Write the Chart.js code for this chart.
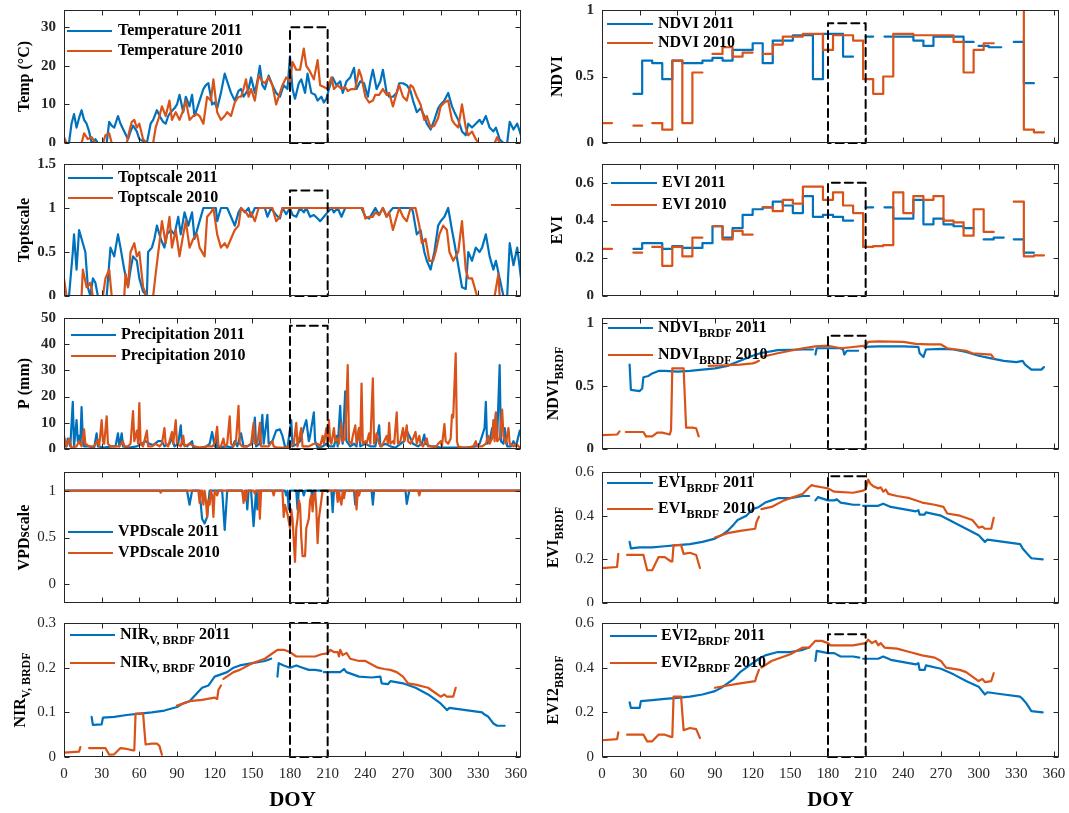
<!DOCTYPE html>
<html>
<head>
<meta charset="utf-8">
<script src="https://cdn.jsdelivr.net/npm/chart.js@4.4.1/dist/chart.umd.min.js"></script>
<style>
  body { margin: 0; background: #fff; width: 1069px; height: 813px; position: relative; overflow: hidden; }
  canvas { position: absolute; }
</style>
</head>
<body>
<script>
// ---- data (DOY, value) ----
const xTicks = [0, 30, 60, 90, 120, 150, 180, 210, 240, 270, 300, 330, 360];
const boxDoy = [180, 210];

const temp2011 = [[0,0],[4,0],[6,5],[8,7.5],[10,4],[12,6.5],[14,8.5],[16,6],[18,5],[20,3],
  [22,0],[24,0.5],[25,1],[27,0],[34,0],[36,5.5],[38,4.5],[40,4],[43,7],[45,5],
  [48,3],[51,1],[53,3],[55,4.5],[58,3],[60,1],[63,0.5],[66,0],[69,5],[71,6],
  [74,8.5],[77,6.5],[79,5.5],[81,5],[83,7],[85,8],[88,9],[90,10],[92,12.5],[95,8],
  [97,12],[100,9.5],[102,12.5],[104,7],[106,9],[108,11],[111,14],[113,15],[115,15.5],[118,10],
  [120,10.5],[122,9],[125,13],[128,18],[130,16],[133,13],[136,11],[139,13.5],[141,14],[143,12],
  [145,13],[147,14],[149,17],[152,13],[154,16],[156,20],[158,15],[160,14],[163,17.5],[166,15],
  [169,13],[172,12],[175,15],[178,14],[180,22.5],[182,14],[184,11.5],[187,15.5],[189,16.5],[192,13],
  [194,18],[197,13],[200,12.5],[202,11],[205,12],[207,10.5],[209,11.5],[211,14],[214,17],[217,15],
  [220,16],[222,13],[225,16],[228,17],[231,19.5],[233,14],[236,16],[239,15.5],[242,12],[244,16],
  [246,19],[249,14],[252,16],[254,19],[257,13],[259,12],[262,12],[265,13],[267,15.5],[270,15.5],
  [273,15],[276,13.5],[278,11],[281,8],[284,9],[287,7],[289,5],[292,3.5],[295,6],[298,9],
  [300,10],[303,11],[306,13],[309,9.5],[311,8],[314,6],[317,3],[320,2],[322,5],[325,4],
  [328,5],[331,6],[333,5],[336,7],[339,4],[342,3],[344,4],[347,1],[350,0],[353,0],
  [355,5.5],[358,3.5],[361,5],[364,2]];
const temp2010 = [[0,1.5],[2,0],[14,0],[16,2.5],[19,1],[22,1.5],[25,0],[31,0],[33,2],[36,2.5],
  [38,0],[50,0],[52,3],[54,5.5],[56,6],[58,4],[60,5],[63,1],[66,0],[71,0],
  [73,4],[76,7],[78,9.5],[81,7],[84,11],[86,6],[89,8],[92,6],[95,8.5],[97,11],
  [100,6],[103,7],[106,7.5],[108,7],[111,5],[114,12],[117,11],[119,16.5],[122,8],[125,6],
  [128,7],[130,8],[133,7],[136,10.5],[139,12],[141,12],[143,14],[145,16.5],[147,12],[149,14],
  [152,11],[155,17.5],[158,16],[160,15.5],[163,17],[166,15],[169,10],[172,13],[174,15],[177,17],
  [180,16],[182,21],[185,19],[188,19],[191,24.5],[193,20],[196,18.5],[199,16.5],[202,21.5],[204,15],
  [207,14.5],[210,14],[213,17],[215,14],[218,15],[221,14],[224,14.5],[226,13.5],[229,14],[232,14],
  [235,19],[237,17],[240,12],[243,10.5],[246,11],[248,12.5],[251,12.5],[254,14],[257,12.5],[259,13],
  [262,9.5],[265,13],[267,15],[270,12],[273,11],[276,15],[278,14.5],[281,12],[284,10],[287,6],
  [289,7],[292,4],[295,4.5],[298,6.5],[300,9.5],[303,10.5],[306,11],[309,6],[311,5],[314,4],
  [317,10],[320,4],[322,2],[325,3],[328,1],[330,0],[343,0],[345,1.5],[347,0],[364,0]];

const topt2011 = [[0,0],[4,0],[7,0.5],[8,0.7],[10,0.3],[12,0.75],[15,0.6],[17,0.5],[19,0.1],[21,0],
  [23,0.2],[25,0.15],[27,0],[34,0],[37,0.55],[40,0.45],[43,0.7],[45,0.55],[48,0.3],[51,0.1],
  [53,0.3],[55,0.45],[58,0.4],[60,0.2],[63,0.05],[66,0],[67,0.5],[70,0.55],[72,0.65],[74,0.8],
  [77,0.65],[80,0.55],[82,0.7],[85,0.75],[88,0.7],[91,0.9],[93,0.7],[96,0.95],[99,0.8],[102,0.95],
  [104,0.65],[107,0.8],[111,1],[121,1],[122,0.85],[125,1],[130,1],[133,0.9],[136,0.8],[139,0.95],
  [141,1],[144,0.95],[147,1],[149,0.9],[152,1],[160,1],[162,0.9],[165,1],[169,0.92],[172,0.88],
  [174,1],[177,0.93],[180,1],[182,0.92],[185,0.9],[188,1],[191,0.95],[193,1],[196,0.9],[199,0.92],
  [202,0.88],[204,0.85],[207,0.9],[210,0.95],[213,1],[215,0.95],[218,1],[221,0.9],[224,1],[237,1],
  [240,0.9],[243,0.88],[246,0.95],[248,1],[251,0.92],[254,1],[257,0.9],[259,0.95],[262,1],[277,1],
  [278,0.95],[281,0.7],[284,0.75],[287,0.5],[289,0.4],[292,0.3],[295,0.5],[298,0.8],[300,0.85],[303,0.9],
  [306,1],[309,0.75],[311,0.6],[314,0.35],[317,0.1],[320,0.08],[322,0.5],[325,0.4],[328,0.55],[331,0.5],
  [333,0.55],[336,0.7],[339,0.45],[342,0.3],[344,0.4],[347,0.2],[350,0],[353,0],[355,0.6],[358,0.35],
  [361,0.55],[364,0.2]];
const topt2010 = [[0,0.2],[2,0],[14,0],[15,0.3],[18,0.1],[21,0.15],[23,0],[31,0],[33,0.2],[36,0.3],
  [38,0],[48,0],[49,0.25],[51,0.1],[53,0.5],[56,0.6],[58,0.45],[60,0.5],[63,0.1],[66,0],
  [71,0],[73,0.25],[76,0.6],[78,0.85],[81,0.6],[84,0.9],[86,0.55],[89,0.75],[92,0.45],[95,0.7],
  [97,0.85],[100,0.55],[103,0.65],[106,0.7],[108,0.55],[112,0.45],[114,0.9],[117,0.95],[119,1],[122,0.7],
  [125,0.55],[128,0.6],[130,0.55],[133,0.65],[136,0.75],[139,0.8],[141,1],[145,0.95],[147,0.9],[149,0.95],
  [152,0.85],[155,1],[166,1],[169,0.85],[172,0.9],[174,1],[238,1],[240,0.88],[243,0.9],[246,0.9],
  [248,0.95],[251,0.92],[254,1],[257,0.9],[259,0.95],[262,0.75],[265,0.9],[267,1],[270,0.9],[273,0.85],
  [276,1],[280,1],[283,0.8],[285,0.6],[288,0.65],[291,0.4],[294,0.4],[296,0.5],[299,0.7],[302,0.8],
  [305,0.75],[307,0.5],[310,0.4],[314,0.5],[317,0.85],[320,0.3],[322,0.2],[325,0.2],[328,0.05],[329,0],
  [343,0],[346,0.25],[347,0],[364,0]];

const precip2011 = [[0,1],[2,1],[3,4],[5,1],[7,18],[8,1],[10,11],[11,3],[12,5],[13,2],
  [14,16],[15,4],[16,1],[20,1],[24,0.5],[26,6],[27,1],[32,0.5],[38,1],[41,1],
  [43,6],[44,1],[46,6],[47,1],[52,0.5],[58,1],[62,2],[65,3],[68,2],[71,1.5],
  [75,3],[78,3],[80,1],[84,2],[86,4],[88,1],[91,2],[93,9],[94,2],[98,1],
  [102,3],[103,0.5],[108,0.5],[112,0.5],[116,2],[118,6.5],[120,1],[121,4],[122,0.5],[130,1],
  [134,0.5],[136,3],[138,1],[141,6],[143,1],[146,1],[150,2],[152,12],[153,1],[156,2],
  [158,13],[159,2],[162,13],[163,2],[166,3],[169,7],[172,7.5],[174,5],[176,1],[178,0.5],
  [181,11],[182,1],[186,2],[188,3],[191,8],[193,11],[195,3],[196,5],[199,14],[200,3],
  [202,0.5],[206,1],[209,2],[212,1],[215,1],[217,5],[218,1],[220,16.5],[221,5],[222,2],
  [224,22],[225,3],[228,1],[231,2],[233,1],[235,8],[236,1],[240,2],[244,1],[248,1],
  [251,9],[252,1],[256,2],[260,1],[264,0.5],[268,2],[271,3],[273,7],[276,4],[278,2],
  [282,1],[285,2],[287,5.5],[288,2],[292,1],[296,1],[300,0.5],[310,0.5],[320,0.5],[328,1],
  [331,2],[333,5],[335,8],[336,18],[337,2],[339,3],[341,8],[343,8],[344,13.5],[345,4],
  [347,32],[348,3],[350,2],[351,8],[353,1],[356,1],[358,3],[360,1],[363,7],[364,5]];
const precip2010 = [[0,5],[2,1],[4,4],[6,0.5],[10,1],[12,3],[14,1],[16,7.5],[17,2],[20,1],
  [24,1],[27,3.5],[28,1],[30,11],[31,3],[32,2],[34,12.5],[35,2],[37,1],[40,1],
  [44,1],[47,3],[48,1],[51,1],[53,2],[55,14.5],[56,3],[58,7],[59,2],[60,17.5],
  [61,2],[63,1],[66,7],[67,1],[70,1],[73,2],[76,1],[78,2],[80,8],[81,2],
  [83,1],[86,6.5],[87,2],[89,11],[90,2],[93,1],[95,5],[96,1],[100,2],[104,1],
  [108,0.5],[114,1],[118,1],[120,2],[122,8.5],[123,1],[125,1],[127,4],[128,1],[130,2],
  [132,12.5],[133,2],[135,1],[137,3],[139,16.5],[140,2],[142,1],[146,1],[149,2],[151,10],
  [152,2],[154,2],[156,10],[157,1],[160,1],[163,1],[166,3],[167,1],[170,0.5],[176,0.5],
  [180,1],[183,2],[185,10],[186,1],[189,8],[190,1],[195,1],[199,2],[202,2],[204,1],
  [206,5],[207,2],[209,8],[210,3],[211,11],[212,3],[213,2],[215,8],[216,3],[218,4],
  [219,2],[221,10],[222,3],[224,4],[226,32],[227,3],[229,2],[230,5],[232,9],[233,2],
  [235,8],[236,3],[237,25],[238,2],[240,3],[241,2],[243,6],[244,2],[246,27],[247,2],
  [249,6],[251,2],[253,1],[255,3],[257,5],[258,2],[259,10],[260,2],[262,3],[263,2],
  [265,14],[266,2],[268,3],[270,8],[271,3],[273,9],[274,3],[276,2],[278,4],[280,6.5],
  [281,2],[283,5],[284,2],[286,1],[289,4],[290,1],[293,1],[296,0.5],[298,2],[300,3],
  [301,1],[303,9.5],[304,3],[306,2],[308,4],[309,13],[310,12],[312,36.5],[313,3],[314,1],
  [318,0.5],[322,0.5],[326,1],[328,3],[329,1],[333,1],[336,2],[338,5],[339,2],[341,4],
  [342,11],[343,3],[344,14],[345,3],[347,4],[349,15],[350,5],[352,2],[354,8],[355,2],
  [358,1],[360,2],[362,1],[364,0.5]];

const vpd2011 = [[0,1],[98,1],[100,0.85],[102,1],[108,1],[110,0.7],[112,0.65],[114,0.72],[116,1],[126,1],
  [128,0.58],[130,1],[142,1],[144,0.9],[145,1],[146,0.8],[147,1],[149,1],[151,0.62],[153,1],
  [154,0.8],[155,1],[176,1],[177,0.95],[178,1],[179,0.8],[180,1],[185,1],[186,0.8],[187,1],
  [190,1],[191,0.95],[192,1],[197,1],[198,0.9],[199,1],[213,1],[214,0.77],[215,1],[231,1],
  [232,0.85],[233,1],[245,1],[246,0.85],[247,1],[272,1],[273,0.86],[275,1],[364,1]];
const vpd2010 = [[0,1],[76,1],[77,0.98],[78,1],[107,1],[108,0.87],[109,1],[110,1],[111,0.85],[112,1],
  [113,0.9],[114,0.72],[115,0.9],[116,0.85],[117,1],[118,0.95],[119,0.72],[120,1],[122,0.95],[123,1],
  [142,1],[143,0.87],[144,1],[145,0.9],[146,1],[151,1],[152,0.97],[153,1],[155,1],[156,0.7],
  [157,1],[166,1],[167,0.95],[168,1],[174,1],[175,0.72],[176,0.85],[178,0.75],[180,0.6],[181,0.8],
  [182,0.7],[184,0.24],[185,0.6],[186,0.7],[187,0.9],[188,0.85],[189,0.5],[190,0.3],[192,0.3],[193,0.6],
  [195,0.7],[196,0.9],[197,0.95],[198,0.78],[199,0.95],[200,1],[201,0.8],[202,0.44],[203,0.7],[205,0.9],
  [206,1],[217,1],[218,0.88],[219,1],[220,0.9],[221,0.85],[222,1],[223,0.92],[224,1],[232,1],
  [233,0.8],[234,1],[235,0.95],[236,1],[282,1],[283,0.95],[284,1],[364,1]];

const nirv2011 = [[22,0.09],[23,0.072],[30,0.073],[31,0.088],[40,0.09],[50,0.094],[60,0.097],[70,0.1],[80,0.104],[90,0.112],
  [95,0.12],[100,0.125],[105,0.14],[110,0.155],[115,0.16],[120,0.18],[125,0.185],[130,0.19],[135,0.2],[140,0.205],
  [150,0.21],[160,0.215],[165,0.22],[167,null],[170,0.18],[171,0.21],[175,0.205],[180,0.2],[185,0.205],[190,0.2],
  [195,0.195],[200,0.195],[205,0.193],[206,null],[207,0.19],[215,0.19],[220,0.19],[223,0.197],[225,0.19],[235,0.18],
  [245,0.178],[252,0.18],[253,0.165],[258,0.163],[260,0.17],[270,0.165],[280,0.155],[290,0.14],[300,0.12],[305,0.105],
  [307,0.11],[320,0.105],[333,0.1],[335,0.095],[338,0.09],[342,0.075],[345,0.07],[351,0.07]];
const nirv2010 = [[0,0.01],[12,0.012],[13,0.022],[15,null],[20,0.02],[33,0.02],[36,0.005],[40,0.006],[45,0.02],[50,0.018],
  [55,0.015],[56,0.015],[57,0.097],[63,0.097],[65,0.028],[70,0.03],[74,0.03],[76,0.025],[78,0.005],[80,null],
  [90,0.115],[100,0.125],[110,0.128],[120,0.133],[122,0.13],[123,0.15],[125,0.16],[126,null],[127,0.175],[135,0.19],
  [140,0.195],[150,0.21],[155,0.215],[160,0.22],[165,0.23],[170,0.24],[175,0.24],[180,0.235],[185,0.225],[190,0.225],
  [200,0.225],[205,0.23],[210,0.232],[212,0.24],[215,0.235],[218,0.235],[219,0.225],[220,0.24],[222,0.228],[225,0.233],
  [228,0.22],[235,0.215],[240,0.215],[250,0.2],[255,0.197],[260,0.195],[265,0.19],[270,0.18],[274,0.165],[280,0.162],
  [290,0.155],[295,0.145],[300,0.135],[303,0.14],[305,0.135],[310,0.135],[312,0.155]];

// composites: [start DOY, value] held until the next start, null = no data
const ndvi2011 = [[25,0.37],[32,0.62],[40,0.60],[48,0.48],[56,0.62],[64,0.60],[80,0.62],[88,0.64],[96,0.62],[104,0.70],
  [120,0.75],[128,0.60],[136,0.77],[152,0.81],[168,0.48],[176,0.82],[192,0.65],[200,null],[210,0.80],[216,null],
  [225,0.80],[248,0.77],[256,0.73],[264,0.80],[288,0.76],[296,null],[300,0.73],[308,0.72],[318,null],[328,0.76],
  [336,0.45],[344,null]];
const ndvi2010 = [[0,0.15],[8,null],[25,0.13],[32,null],[40,0.15],[48,0.10],[56,0.62],[64,0.15],[72,0.53],[80,null],
  [88,0.67],[96,0.72],[104,0.65],[112,0.68],[120,null],[128,0.67],[136,0.74],[144,0.80],[160,0.82],[176,0.70],
  [184,0.81],[200,0.77],[208,0.48],[216,0.37],[224,0.50],[232,0.82],[248,0.81],[280,0.76],[288,0.53],[296,0.70],
  [304,0.75],[312,null],[334,1.0],[336,0.10],[344,0.08],[352,null]];
const evi2011 = [[25,0.25],[32,0.28],[48,0.25],[56,0.265],[64,0.255],[80,0.28],[88,0.37],[96,0.31],[104,0.36],[112,0.43],
  [120,0.46],[128,0.47],[136,0.50],[144,0.48],[152,0.44],[160,0.53],[168,0.42],[176,0.43],[184,0.42],[192,0.40],
  [200,null],[210,0.47],[216,null],[225,0.47],[232,0.41],[248,0.51],[256,0.38],[264,0.41],[272,0.38],[280,0.37],
  [288,0.36],[296,null],[304,0.30],[312,0.31],[320,null],[328,0.30],[336,0.23],[344,null]];
const evi2010 = [[0,0.25],[8,null],[25,0.23],[32,null],[40,0.26],[48,0.16],[56,0.26],[64,0.21],[72,0.31],[80,null],
  [88,0.37],[96,0.30],[104,0.345],[112,0.325],[120,null],[128,0.47],[136,0.45],[144,0.51],[152,0.49],[160,0.58],
  [176,0.51],[184,0.55],[192,0.48],[200,0.44],[208,0.26],[216,0.265],[224,0.27],[232,0.55],[240,0.44],[248,0.53],
  [256,0.51],[264,0.53],[272,0.40],[280,0.39],[288,0.32],[296,0.46],[304,0.34],[312,null],[328,0.50],[336,0.21],
  [344,0.215],[352,null]];

const ndviB2011 = [[22,0.67],[23,0.47],[30,0.46],[32,0.48],[33,0.57],[37,0.58],[40,0.6],[45,0.62],[50,0.62],[60,0.615],
  [70,0.62],[80,0.63],[90,0.64],[100,0.66],[105,0.68],[110,0.7],[115,0.72],[120,0.74],[126,0.76],[140,0.785],
  [160,0.79],[168,0.79],[169,null],[170,0.75],[171,0.8],[180,0.8],[190,0.8],[192,0.79],[193,0.75],[195,0.78],
  [204,0.78],[206,null],[209,0.81],[220,0.815],[240,0.815],[250,0.81],[252,0.81],[253,0.76],[256,0.73],[258,0.79],
  [270,0.795],[280,0.79],[290,0.77],[300,0.74],[310,0.72],[320,0.7],[330,0.69],[335,0.7],[337,0.67],[342,0.63],
  [350,0.63],[352,0.65]];
const ndviB2010 = [[0,0.11],[12,0.115],[14,0.14],[16,null],[19,0.135],[33,0.135],[35,0.1],[40,0.1],[44,0.13],[48,0.13],
  [54,0.115],[55,0.15],[56,0.64],[65,0.64],[67,0.17],[72,0.17],[75,0.165],[77,0.1],[79,null],[85,0.66],
  [100,0.665],[110,0.67],[120,0.68],[123,0.69],[125,0.7],[126,null],[127,0.73],[140,0.76],[150,0.78],[160,0.8],
  [170,0.815],[180,0.82],[190,0.8],[200,0.81],[210,0.82],[212,0.85],[220,0.855],[240,0.85],[250,0.835],[260,0.83],
  [270,0.83],[275,0.8],[290,0.78],[295,0.76],[310,0.75],[312,0.72]];
const eviB2011 = [[22,0.28],[23,0.25],[30,0.255],[40,0.255],[50,0.26],[60,0.265],[70,0.27],[80,0.28],[90,0.295],[95,0.31],
  [100,0.33],[105,0.36],[108,0.38],[115,0.4],[120,0.43],[125,0.44],[130,0.46],[135,0.47],[140,0.48],[150,0.48],
  [160,0.49],[165,0.49],[167,null],[170,0.47],[172,0.485],[180,0.47],[185,0.47],[187,0.475],[190,0.46],[195,0.455],
  [200,0.45],[205,0.45],[206,null],[208,0.445],[220,0.445],[224,0.455],[230,0.44],[240,0.43],[250,0.42],[252,0.425],
  [253,0.405],[257,0.405],[258,0.415],[270,0.4],[280,0.37],[290,0.34],[300,0.31],[305,0.28],[307,0.29],[320,0.28],
  [333,0.27],[335,0.25],[338,0.23],[342,0.205],[351,0.2]];
const eviB2010 = [[0,0.16],[12,0.165],[13,0.225],[15,null],[20,0.22],[33,0.22],[36,0.15],[40,0.15],[45,0.21],[50,0.21],
  [55,0.19],[56,0.19],[57,0.265],[63,0.265],[65,0.225],[70,0.23],[75,0.22],[78,0.16],[80,null],[90,0.3],
  [100,0.32],[110,0.33],[122,0.34],[123,0.37],[125,0.395],[126,null],[127,0.43],[135,0.44],[145,0.47],[155,0.49],
  [160,0.5],[165,0.53],[167,0.54],[170,0.535],[175,0.53],[180,0.525],[185,0.51],[200,0.505],[208,0.515],[210,0.52],
  [212,0.565],[214,0.545],[216,0.535],[220,0.525],[222,0.53],[224,0.51],[226,0.52],[228,0.5],[235,0.49],[245,0.48],
  [255,0.46],[265,0.45],[272,0.44],[275,0.41],[285,0.4],[295,0.38],[300,0.345],[303,0.35],[305,0.34],[310,0.34],
  [312,0.39]];
const evi2B2011 = [[22,0.245],[23,0.22],[30,0.22],[31,0.25],[40,0.255],[50,0.26],[60,0.265],[70,0.27],[80,0.28],[90,0.295],
  [95,0.31],[100,0.33],[105,0.35],[110,0.38],[115,0.4],[120,0.42],[125,0.44],[130,0.455],[140,0.47],[150,0.47],
  [160,0.48],[165,0.49],[167,null],[170,0.43],[171,0.475],[180,0.465],[185,0.465],[190,0.45],[195,0.45],[200,0.45],
  [205,0.445],[206,null],[208,0.44],[220,0.44],[224,0.45],[230,0.435],[240,0.425],[250,0.415],[252,0.42],[253,0.39],
  [257,0.39],[258,0.41],[270,0.395],[280,0.37],[290,0.34],[300,0.315],[305,0.28],[307,0.29],[320,0.28],[333,0.27],
  [335,0.26],[338,0.24],[342,0.205],[351,0.2]];
const evi2B2010 = [[0,0.075],[12,0.08],[13,0.11],[15,null],[20,0.1],[33,0.1],[36,0.07],[40,0.07],[45,0.1],[50,0.1],
  [55,0.09],[56,0.09],[57,0.27],[63,0.27],[65,0.12],[70,0.13],[75,0.125],[78,0.085],[80,null],[90,0.31],
  [100,0.32],[110,0.33],[122,0.34],[123,0.36],[125,0.39],[126,null],[127,0.4],[135,0.43],[145,0.45],[150,0.46],
  [160,0.49],[165,0.49],[170,0.52],[175,0.52],[180,0.51],[182,0.5],[200,0.5],[210,0.51],[212,0.525],[215,0.51],
  [218,0.52],[220,0.5],[222,0.51],[225,0.49],[235,0.485],[245,0.47],[255,0.455],[265,0.445],[270,0.43],[274,0.4],
  [285,0.39],[290,0.38],[300,0.34],[303,0.35],[305,0.335],[310,0.34],[312,0.375]];

// ---- helpers ----
const FONT = '"Liberation Serif", "Times New Roman", serif';
const BLUE = 'rgb(0,114,189)';
const ORANGE = 'rgb(217,83,25)';

function pts(pairs) {
  return pairs.map(p => ({x: p[0], y: p[1]}));
}
function stairs(pairs) {
  const out = [];
  pairs.forEach((p, i) => {
    if (p[1] === null || i === pairs.length - 1) { out.push({x: p[0], y: null}); return; }
    out.push({x: p[0], y: p[1]}, {x: pairs[i + 1][0], y: p[1]});
  });
  return out;
}

// text with _{sub} parts
function rich(ctx, str, x, y, size, dry) {
  const parts = str.split(/_\{([^}]*)\}/);
  let cx = x;
  parts.forEach((t, i) => {
    if (!t) return;
    const sub = i % 2 === 1;
    ctx.font = 'bold ' + (sub ? Math.round(size * 0.78) : size) + 'px ' + FONT;
    if (!dry) ctx.fillText(t, cx, sub ? y + size * 0.34 : y);
    cx += ctx.measureText(t).width;
  });
  return cx - x;
}

const rows = [
  {top: 10, bottom: 143}, {top: 164, bottom: 296}, {top: 318, bottom: 449},
  {top: 472, bottom: 603}, {top: 623, bottom: 757}
];
const cols = [
  {left: 0, width: 530, axisW: 64, padR: 9, titleX: 25},
  {left: 540, width: 529, axisW: 62, padR: 10, titleX: 18}
];

const panels = [
  {row: 0, col: 0, ymin: 0, ymax: 34.5, yticks: [0, 10, 20, 30], bold: true, title: 'Temp (°C)', boxTop: 30,
    lg: {x1: 3, x2: 48, tx: 54, y: [21, 41]}, labels: ['Temperature 2011', 'Temperature 2010'],
    a: pts(temp2011), b: pts(temp2010)},
  {row: 1, col: 0, ymin: 0, ymax: 1.5, yticks: [0, 0.5, 1, 1.5], bold: true, title: 'Toptscale', boxTop: 1.2,
    lg: {x1: 4, x2: 49, tx: 54, y: [14, 34]}, labels: ['Toptscale 2011', 'Toptscale 2010'],
    a: pts(topt2011), b: pts(topt2010)},
  {row: 2, col: 0, ymin: 0, ymax: 50, yticks: [0, 10, 20, 30, 40, 50], bold: true, title: 'P (mm)', boxTop: 47,
    lg: {x1: 7, x2: 52, tx: 57, y: [17, 38]}, labels: ['Precipitation 2011', 'Precipitation 2010'],
    a: pts(precip2011), b: pts(precip2010)},
  {row: 3, col: 0, ymin: -0.2, ymax: 1.2, yticks: [0, 0.5, 1], bold: false, title: 'VPDscale', boxTop: 1,
    lg: {x1: 4, x2: 49, tx: 54, y: [60, 81]}, labels: ['VPDscale 2011', 'VPDscale 2010'],
    a: pts(vpd2011), b: pts(vpd2010)},
  {row: 4, col: 0, ymin: 0, ymax: 0.3, yticks: [0, 0.1, 0.2, 0.3], bold: false, title: 'NIR_{V, BRDF}', boxTop: 0.3,
    lg: {x1: 6, x2: 51, tx: 56, y: [12, 40]}, labels: ['NIR_{V, BRDF} 2011', 'NIR_{V, BRDF} 2010'],
    a: pts(nirv2011), b: pts(nirv2010)},
  {row: 0, col: 1, ymin: 0, ymax: 1, yticks: [0, 0.5, 1], bold: true, title: 'NDVI', boxTop: 0.9,
    lg: {x1: 5, x2: 51, tx: 56, y: [14, 33]}, labels: ['NDVI 2011', 'NDVI 2010'],
    a: stairs(ndvi2011), b: stairs(ndvi2010)},
  {row: 1, col: 1, ymin: 0, ymax: 0.7, yticks: [0, 0.2, 0.4, 0.6], bold: true, title: 'EVI', boxTop: 0.6,
    lg: {x1: 9, x2: 55, tx: 60, y: [19, 41]}, labels: ['EVI 2011', 'EVI 2010'],
    a: stairs(evi2011), b: stairs(evi2010)},
  {row: 2, col: 1, ymin: 0, ymax: 1.04, yticks: [0, 0.5, 1], bold: true, title: 'NDVI_{BRDF}', boxTop: 0.9,
    lg: {x1: 6, x2: 51, tx: 56, y: [10, 37]}, labels: ['NDVI_{BRDF} 2011', 'NDVI_{BRDF} 2010'],
    a: pts(ndviB2011), b: pts(ndviB2010)},
  {row: 3, col: 1, ymin: 0, ymax: 0.6, yticks: [0, 0.2, 0.4, 0.6], bold: false, title: 'EVI_{BRDF}', boxTop: 0.58,
    lg: {x1: 5, x2: 51, tx: 56, y: [11, 37]}, labels: ['EVI_{BRDF} 2011', 'EVI_{BRDF} 2010'],
    a: pts(eviB2011), b: pts(eviB2010)},
  {row: 4, col: 1, ymin: 0, ymax: 0.6, yticks: [0, 0.2, 0.4, 0.6], bold: false, title: 'EVI2_{BRDF}', boxTop: 0.55,
    lg: {x1: 8, x2: 55, tx: 59, y: [13, 40]}, labels: ['EVI2_{BRDF} 2011', 'EVI2_{BRDF} 2010'],
    a: pts(evi2B2011), b: pts(evi2B2010)}
];

function lookPlugin(p, col) {
  return {
    id: 'matlabLook',
    afterDraw(chart) {
      const {ctx, chartArea: a, scales: {x, y}} = chart;
      ctx.save();
      // box + inward ticks on all four sides
      const L = Math.round(a.left) + 0.5, R = Math.round(a.right) - 0.5;
      const T = Math.round(a.top) + 0.5, B = Math.round(a.bottom) - 0.5;
      ctx.strokeStyle = '#262626';
      ctx.lineWidth = 1;
      ctx.strokeRect(L, T, R - L, B - T);
      ctx.beginPath();
      xTicks.forEach(v => {
        const px = Math.round(x.getPixelForValue(v)) + 0.5;
        ctx.moveTo(px, B); ctx.lineTo(px, B - 5);
        ctx.moveTo(px, T); ctx.lineTo(px, T + 5);
      });
      p.yticks.forEach(v => {
        const py = Math.round(y.getPixelForValue(v)) + 0.5;
        ctx.moveTo(L, py); ctx.lineTo(L + 5, py);
        ctx.moveTo(R, py); ctx.lineTo(R - 5, py);
      });
      ctx.stroke();

      // legend
      ctx.textBaseline = 'middle';
      ctx.textAlign = 'left';
      [BLUE, ORANGE].forEach((c, i) => {
        const ly = a.top + p.lg.y[i];
        ctx.strokeStyle = c;
        ctx.lineWidth = 2.2;
        ctx.beginPath();
        ctx.moveTo(a.left + p.lg.x1, ly);
        ctx.lineTo(a.left + p.lg.x2, ly);
        ctx.stroke();
        ctx.fillStyle = '#000';
        rich(ctx, p.labels[i], a.left + p.lg.tx, ly, 16);
      });

      // y axis title
      const hasSub = p.title.indexOf('_{') >= 0;
      const w = rich(ctx, p.title, 0, 0, 16, true);
      ctx.translate(col.titleX - (hasSub ? 4 : 0), (a.top + a.bottom) / 2);
      ctx.rotate(-Math.PI / 2);
      ctx.fillStyle = '#000';
      rich(ctx, p.title, -w / 2, 0, 16);
      ctx.restore();
    }
  };
}

panels.forEach(p => {
  const r = rows[p.row], col = cols[p.col];
  const last = p.row === 4;
  const cv = document.createElement('canvas');
  const top = r.top - 8;
  const h = last ? 813 - top : (r.bottom - r.top) + 8 + 3;
  cv.width = col.width;
  cv.height = h;
  cv.style.left = col.left + 'px';
  cv.style.top = top + 'px';
  document.body.appendChild(cv);

  const xScale = last ? {
    type: 'linear', min: 0, max: 364,
    afterBuildTicks: s => { s.ticks = xTicks.map(v => ({value: v})); },
    afterFit: s => { s.height = 56; s.paddingLeft = 0; s.paddingRight = 0; },
    grid: {display: false, drawTicks: false},
    border: {display: false},
    ticks: {autoSkip: false, maxRotation: 0, padding: 8, color: '#262626',
      font: {family: FONT, size: 15}},
    title: {display: true, text: 'DOY', color: '#000', padding: {top: 0, bottom: 0},
      font: {family: FONT, size: 21, weight: 'bold'}}
  } : {type: 'linear', min: 0, max: 364, display: false};

  new Chart(cv.getContext('2d'), {
    type: 'line',
    data: {
      datasets: [
        {label: p.labels[0], data: p.a, borderColor: BLUE, borderWidth: 2.2, order: 2},
        {label: p.labels[1], data: p.b, borderColor: ORANGE, borderWidth: 2.2, order: 1},
        {label: 'window', order: 0, borderColor: '#000', borderWidth: 2, borderDash: [8, 5], clip: false,
          data: [
            {x: boxDoy[0], y: p.ymin}, {x: boxDoy[0], y: p.boxTop}, {x: boxDoy[1], y: p.boxTop},
            {x: boxDoy[1], y: p.ymin}, {x: boxDoy[0], y: p.ymin}
          ]}
      ]
    },
    options: {
      responsive: false,
      animation: false,
      events: [],
      spanGaps: false,
      layout: {padding: {top: 8, right: col.padR, bottom: last ? 0 : 3, left: 0}},
      elements: {point: {radius: 0}, line: {tension: 0, fill: false, borderJoinStyle: 'round', borderCapStyle: 'round'}},
      plugins: {legend: {display: false}, tooltip: {enabled: false}},
      scales: {
        x: xScale,
        y: {
          type: 'linear', min: p.ymin, max: p.ymax,
          afterBuildTicks: s => { s.ticks = p.yticks.map(v => ({value: v})); },
          afterFit: s => { s.width = col.axisW; s.paddingTop = 0; s.paddingBottom = 0; },
          grid: {display: false, drawTicks: false},
          border: {display: false},
          ticks: {autoSkip: false, padding: 8, color: '#262626',
            font: {family: FONT, size: 15, weight: p.bold ? 'bold' : 'normal'},
            callback: v => String(v)}
        }
      }
    },
    plugins: [lookPlugin(p, col)]
  });
});
</script>
</body>
</html>
